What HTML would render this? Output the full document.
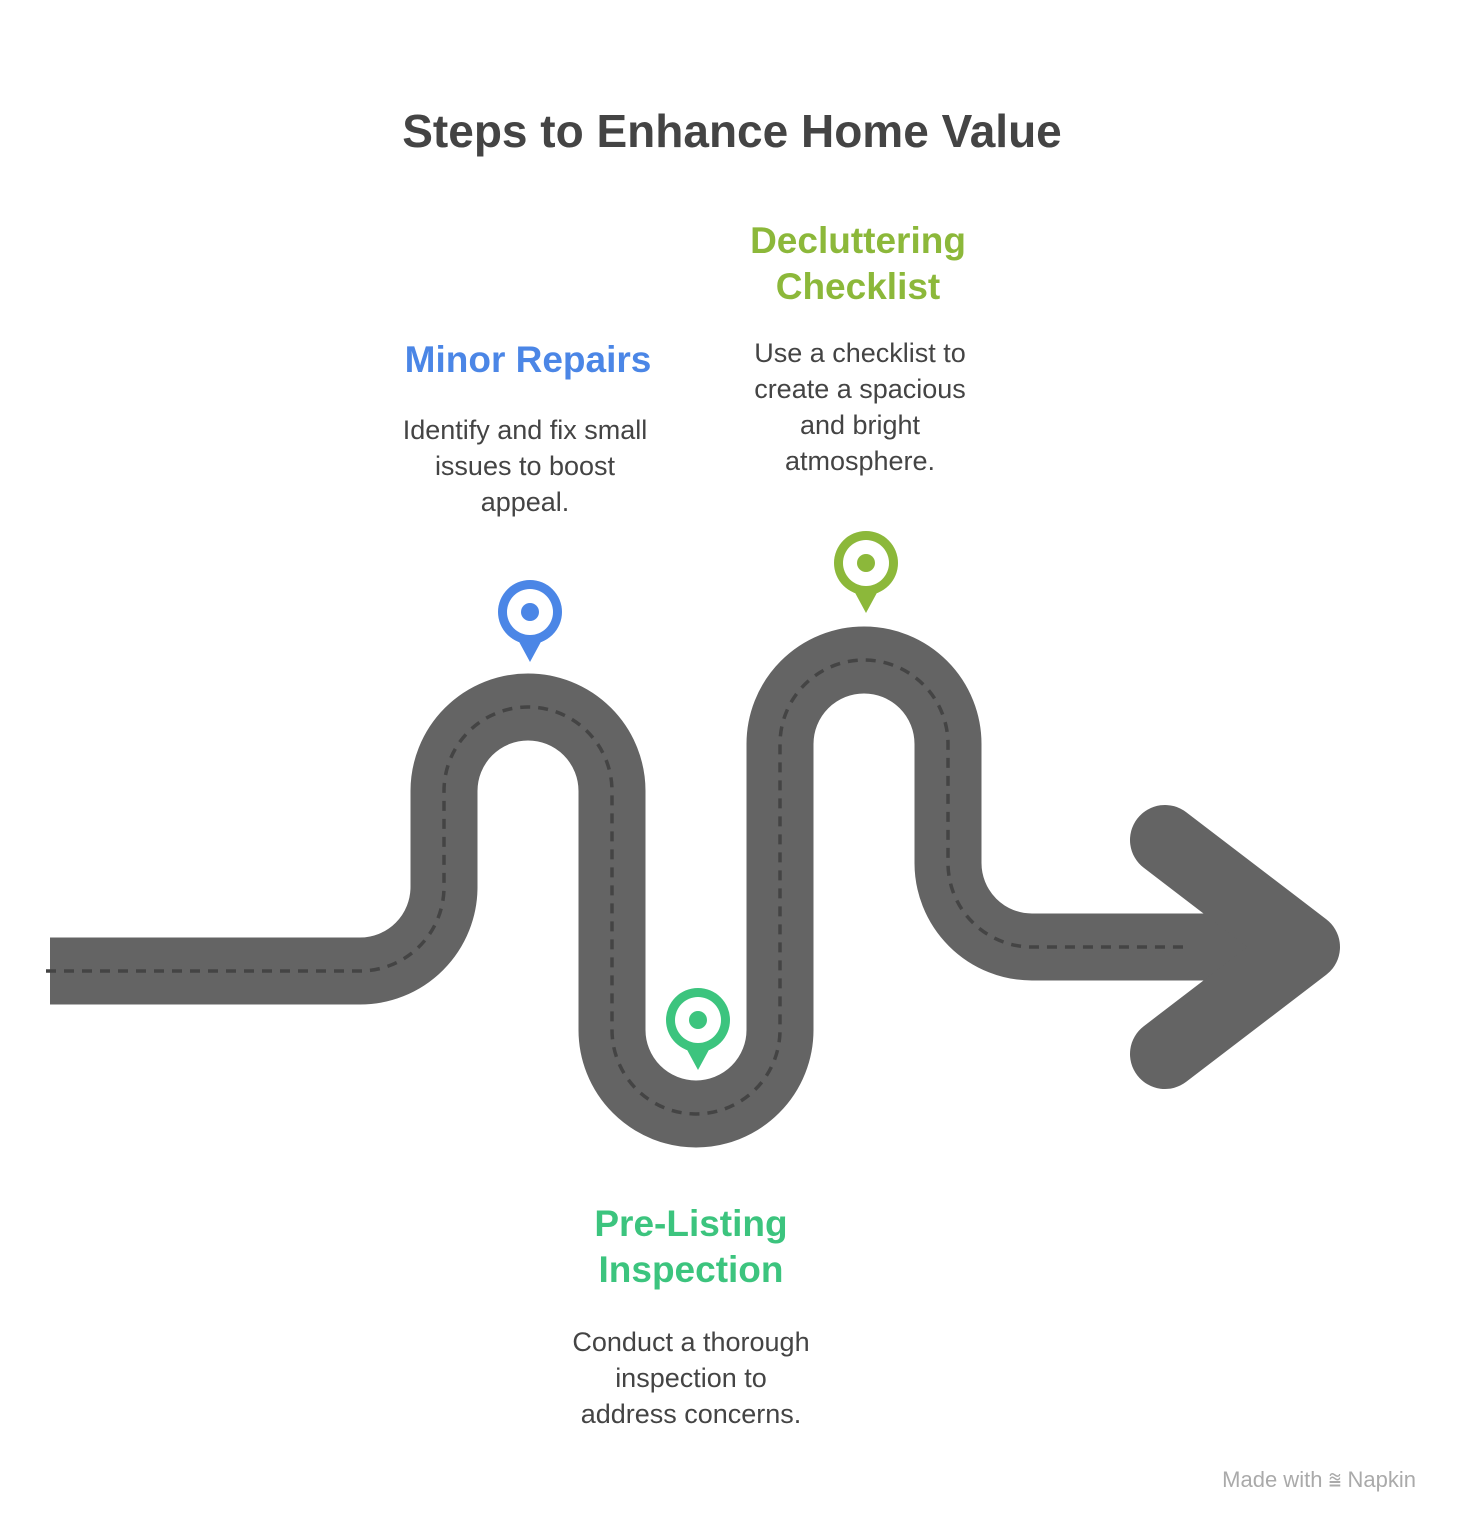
<!DOCTYPE html>
<html><head><meta charset="utf-8"><style>
html,body{margin:0;padding:0;background:#fff;}
body{width:1464px;height:1536px;position:relative;overflow:hidden;font-family:"Liberation Sans",sans-serif;}
.t{position:absolute;text-align:center;}
.title{left:0;width:1464px;top:104px;font-size:46px;font-weight:bold;color:#444;}
.h{font-size:37px;font-weight:bold;line-height:46px;}
.d{font-size:27px;color:#444;line-height:36px;}
</style></head><body>
<div class="t title">Steps to Enhance Home Value</div>
<div class="t h" style="left:718px;width:280px;top:218px;color:#8cb83a;">Decluttering<br>Checklist</div>
<div class="t d" style="left:710px;width:300px;top:335px;">Use a checklist to<br>create a spacious<br>and bright<br>atmosphere.</div>
<div class="t h" style="left:368px;width:320px;top:337px;color:#4b86e6;">Minor Repairs</div>
<div class="t d" style="left:360px;width:330px;top:412px;">Identify and fix small<br>issues to boost<br>appeal.</div>
<div class="t h" style="left:531px;width:320px;top:1201px;color:#3cc47e;">Pre-Listing<br>Inspection</div>
<div class="t d" style="left:521px;width:340px;top:1324px;">Conduct a thorough<br>inspection to<br>address concerns.</div>
<div class="t" style="left:1198px;top:1467px;width:218px;text-align:right;font-size:22px;color:#aaa;">Made with ⩰ Napkin</div>
<svg width="1464" height="1536" style="position:absolute;left:0;top:0">
<g fill="none" stroke="#646464">
<path d="M50 971 H360 A84 84 0 0 0 444 887 V791 A84 84 0 0 1 612 791 V1030 A84 84 0 0 0 780 1030 V744 A84 84 0 0 1 948 744 V863 A84 84 0 0 0 1032 947 H1300" stroke-width="67"/>
<path d="M1165 840 L1305 947 L1165 1054" stroke-width="70" stroke-linecap="round" stroke-linejoin="round"/>
<path d="M46 971 H360 A84 84 0 0 0 444 887 V791 A84 84 0 0 1 612 791 V1030 A84 84 0 0 0 780 1030 V744 A84 84 0 0 1 948 744 V863 A84 84 0 0 0 1032 947 H1190" stroke="#444" stroke-width="3.5" stroke-dasharray="10 8"/>
</g>
<g>
<path d="M517 638 L530 662 L543 638Z" fill="#4b86e6"/><circle cx="530" cy="612" r="32" fill="#4b86e6"/><circle cx="530" cy="612" r="23" fill="#fff"/><circle cx="530" cy="612" r="9" fill="#4b86e6"/>
<path d="M685 1046 L698 1070 L711 1046Z" fill="#3cc47e"/><circle cx="698" cy="1020" r="32" fill="#3cc47e"/><circle cx="698" cy="1020" r="23" fill="#fff"/><circle cx="698" cy="1020" r="9" fill="#3cc47e"/>
<path d="M853 589 L866 613 L879 589Z" fill="#8cb83a"/><circle cx="866" cy="563" r="32" fill="#8cb83a"/><circle cx="866" cy="563" r="23" fill="#fff"/><circle cx="866" cy="563" r="9" fill="#8cb83a"/>
</g>
</svg>
</body></html>
